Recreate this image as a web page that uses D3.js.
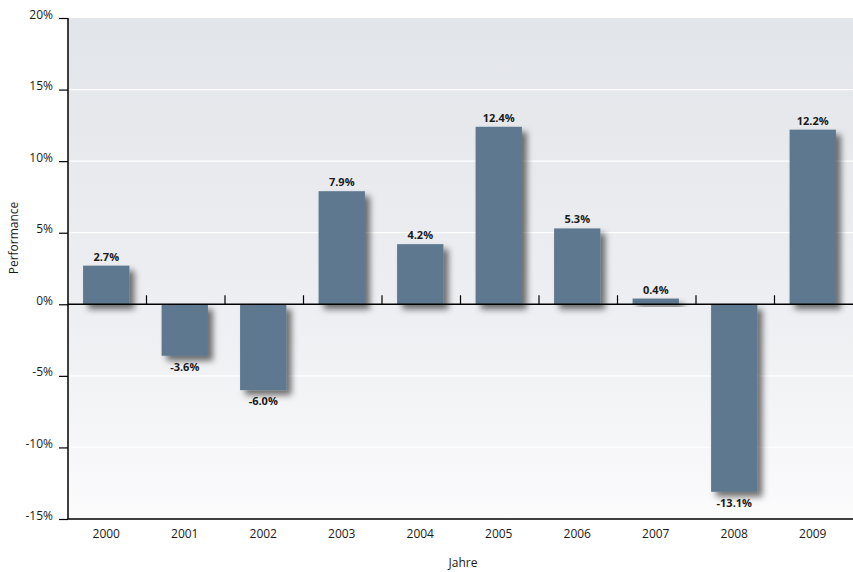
<!DOCTYPE html>
<html>
<head>
<meta charset="utf-8">
<script src="https://cdn.jsdelivr.net/npm/d3@7"></script>
<style>
  body { margin: 0; background: #fff; }
  text { font-family: "Open Sans", "Noto Sans", sans-serif; fill: #1a1a1a; }
</style>
</head>
<body>
<svg id="chart" width="853" height="572"></svg>
<script>
// data
const years = ['2000', '2001', '2002', '2003', '2004', '2005', '2006', '2007', '2008', '2009'];
const performance = [2.7, -3.6, -6.0, 7.9, 4.2, 12.4, 5.3, 0.4, -13.1, 12.2];
const yTicks = [20, 15, 10, 5, 0, -5, -10, -15];

let margins = { top: 18, bottom: 53, left: 68, right: 0 };
let width = 853, height = 572;
let plotWidth = width - margins.left - margins.right;
let plotHeight = height - margins.top - margins.bottom;

let svg = d3.select('#chart');
let defs = svg.append('defs');

let grad = defs.append('linearGradient')
    .attr('id', 'bg').attr('x1', 0).attr('y1', 0).attr('x2', 0).attr('y2', 1);
grad.append('stop').attr('offset', '0%').attr('stop-color', '#e2e5e9');
grad.append('stop').attr('offset', '60%').attr('stop-color', '#eeeff2');
grad.append('stop').attr('offset', '100%').attr('stop-color', '#fbfbfc');

let shadow = defs.append('filter').attr('id', 'shadow')
    .attr('x', '-20%').attr('y', '-20%').attr('width', '150%').attr('height', '150%');
shadow.append('feDropShadow')
    .attr('dx', 5).attr('dy', 5).attr('stdDeviation', 3)
    .attr('flood-color', '#000').attr('flood-opacity', 0.55);

let g = svg.append('g').attr('transform', `translate(${margins.left},${margins.top})`);

let x = d3.scaleBand().domain(years).range([0, plotWidth]);
let y = d3.scaleLinear().domain([-15, 20]).range([plotHeight, 0]);

// background
g.append('rect')
    .attr('width', plotWidth).attr('height', plotHeight)
    .attr('fill', 'url(#bg)');

// gridlines
g.append('g').selectAll('line')
    .data(yTicks.filter(t => t !== 0 && t !== -15 && t !== 20))
    .enter().append('line')
    .attr('x1', 0).attr('x2', plotWidth)
    .attr('y1', d => y(d)).attr('y2', d => y(d))
    .attr('stroke', '#fff').attr('stroke-width', 1.2);

// bars
let barW = x.step() * 0.59;
g.append('g').selectAll('rect')
    .data(performance)
    .enter().append('rect')
    .attr('x', (d, i) => x(years[i]) + x.step() / 2 - barW / 2 - 1)
    .attr('y', d => y(Math.max(0, d)))
    .attr('width', barW)
    .attr('height', d => Math.abs(y(d) - y(0)))
    .attr('fill', '#5d788f')
    .attr('filter', 'url(#shadow)');

// value labels
g.append('g').selectAll('text')
    .data(performance)
    .enter().append('text')
    .attr('x', (d, i) => x(years[i]) + x.step() / 2 - 1)
    .attr('y', d => d >= 0 ? y(d) - 5 : y(d) + 15)
    .attr('text-anchor', 'middle')
    .style('font-size', '11px')
    .style('font-weight', 'bold')
    .text(d => d.toFixed(1) + '%');

// y axis
let yAxis = d3.axisLeft(y).tickValues(yTicks).tickSize(9).tickPadding(6)
    .tickFormat(d => d + '%');
let yAxisGroup = g.append('g').call(yAxis);
yAxisGroup.select('.domain').remove();
yAxisGroup.selectAll('.tick line').attr('stroke', '#000').attr('stroke-width', 1.2);
yAxisGroup.selectAll('.tick text')
    .attr('dy', '0.0em')
    .style('font-size', '12px')
    .style('font-family', '"Open Sans", sans-serif')
    .attr('fill', '#1a1a1a');
g.append('line')
    .attr('x1', 0).attr('x2', 0).attr('y1', 0).attr('y2', plotHeight)
    .attr('stroke', '#000').attr('stroke-width', 1.5);

// zero line with band ticks
g.append('line')
    .attr('x1', 0).attr('x2', plotWidth).attr('y1', y(0)).attr('y2', y(0))
    .attr('stroke', '#000').attr('stroke-width', 1.5);
g.append('g').selectAll('line')
    .data(years.slice(1))
    .enter().append('line')
    .attr('x1', d => x(d)).attr('x2', d => x(d))
    .attr('y1', y(0)).attr('y2', y(0) - 9)
    .attr('stroke', '#000').attr('stroke-width', 1.2);

// bottom axis
let xAxis = d3.axisBottom(x).tickSize(0).tickPadding(10);
let xAxisGroup = g.append('g')
    .attr('transform', `translate(0,${plotHeight})`)
    .call(xAxis);
xAxisGroup.select('.domain').remove();
xAxisGroup.selectAll('.tick text')
    .attr('dx', -1)
    .style('font-size', '12px')
    .style('font-family', '"Open Sans", sans-serif')
    .attr('fill', '#1a1a1a');
g.append('line')
    .attr('x1', 0).attr('x2', plotWidth).attr('y1', plotHeight).attr('y2', plotHeight)
    .attr('stroke', '#000').attr('stroke-width', 1.5);

// axis titles
svg.append('text')
    .attr('transform', 'translate(18,238) rotate(-90)')
    .attr('text-anchor', 'middle')
    .style('font-size', '12px')
    .text('Performance');
svg.append('text')
    .attr('x', 463).attr('y', 567)
    .attr('text-anchor', 'middle')
    .style('font-size', '12px')
    .text('Jahre');
</script>
</body>
</html>
